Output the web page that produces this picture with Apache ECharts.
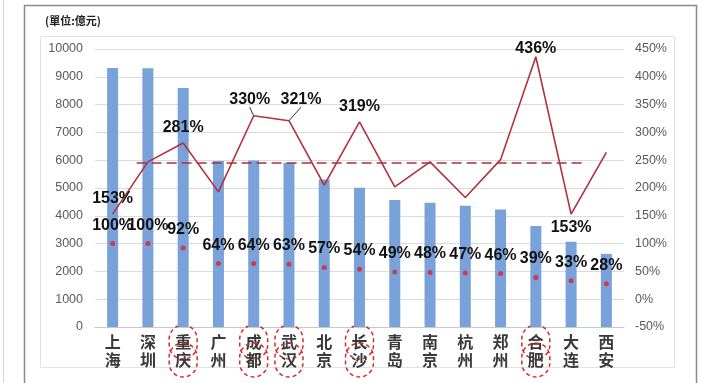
<!DOCTYPE html>
<html>
<head>
<meta charset="utf-8">
<script src="https://cdn.jsdelivr.net/npm/echarts@6/dist/echarts.min.js"></script>
<style>
  html, body { margin: 0; padding: 0; background: #fff; }
  #chart { width: 707px; height: 383px; }
</style>
</head>
<body>
<div id="chart"></div>
<script>
// Cities along the category axis
const cities = ['上海', '深圳', '重庆', '广州', '成都', '武汉', '北京', '长沙', '青岛', '南京', '杭州', '郑州', '合肥', '大连', '西安'];
// Bars: amount in 亿元 (left axis)
const amounts = [9320, 9310, 8600, 5970, 5990, 5910, 5310, 5010, 4570, 4470, 4360, 4230, 3630, 3070, 2630];
// Red line: ratio in % (right axis)
const ratioLine = [153, 247, 281, 193, 330, 321, 205, 319, 202, 247, 183, 251, 436, 153, 264];
// Red dots: ratio in % (right axis)
const ratioDots = [100, 100, 92, 64, 64, 63, 57, 54, 49, 48, 47, 46, 39, 33, 28];
// Dashed reference level (%) and its horizontal extent in category units
const refLevel = 245;
const refSpan = [0.68, 13.32];
// Cities whose axis labels are circled
const circled = ['重庆', '成都', '武汉', '长沙', '合肥'];
// Axis ranges
const leftAxis = { min: 0, max: 10000, step: 1000 };
const rightAxis = { min: -50, max: 450, step: 50 };

const labelFont = 'Liberation Sans, Arial, sans-serif';
const cjkFont = '"Noto Sans CJK SC", sans-serif';

// Which line points carry a value label, and where it sits
const lineLabelPlacement = {
  '上海': { position: 'top', distance: 7 },
  '重庆': { position: 'top', distance: 7 },
  '成都': { position: 'top', distance: 8 },
  '武汉': { position: 'top', distance: 8 },
  '长沙': { position: 'top', distance: 7 },
  '合肥': { position: 'top', distance: 0 },
  '大连': { position: 'bottom', distance: 5 }
};
// Labels pulled aside with a leader line back to their point
const leaderShift = { '成都': [-4, 0], '武汉': [12, -5] };

const valueLabelStyle = {
  color: '#111',
  opacity: 1,
  fontFamily: labelFont,
  fontWeight: 'bold',
  fontSize: 16,
  textBorderWidth: 0
};

const lineData = ratioLine.map((v, i) => {
  const name = cities[i];
  const place = lineLabelPlacement[name];
  if (!place) return v;
  const item = {
    value: v,
    label: Object.assign({ show: true }, valueLabelStyle, place, { formatter: v + '%' })
  };
  if (leaderShift[name]) {
    item.labelLine = { show: true, lineStyle: { color: '#333', width: 1 } };
  }
  return item;
});

const chart = echarts.init(document.getElementById('chart'), null, { renderer: 'canvas' });

chart.setOption({
  animation: false,
  backgroundColor: '#ffffff',
  graphic: [
    { type: 'line', shape: { x1: 3.5, y1: 0, x2: 3.5, y2: 383 }, style: { stroke: '#d4d4d4', lineWidth: 1 }, silent: true },
    { type: 'rect', shape: { x: 24.5, y: 5.5, width: 672, height: 400 }, style: { fill: 'none', stroke: '#8a8a8a', lineWidth: 1.5 }, silent: true },
    { type: 'rect', shape: { x: 40.5, y: 36.5, width: 634, height: 331 }, style: { fill: 'none', stroke: '#e2e2e2', lineWidth: 1 }, silent: true },
    {
      type: 'text', left: 45, top: 15,
      style: { text: '(單位:億元)', fill: '#222', font: 'bold 11px "Noto Sans CJK TC", sans-serif' },
      silent: true
    }
  ],
  grid: { left: 95, right: 83, top: 49, bottom: 56 },
  xAxis: [
    {
      type: 'category',
      data: cities,
      axisLine: { lineStyle: { color: '#c8c8c8' } },
      axisTick: { show: false },
      axisLabel: {
        interval: 0,
        margin: 6,
        formatter: name => {
          const txt = name.split('').join('\n');
          return circled.includes(name) ? '{c|' + txt + '}' : '{n|' + txt + '}';
        },
        rich: {
          n: {
            fontFamily: cjkFont, fontWeight: 'bold', fontSize: 16, lineHeight: 18,
            color: '#3a3a3a', padding: [9, 6, 9, 6], align: 'center'
          },
          c: {
            fontFamily: cjkFont, fontWeight: 'bold', fontSize: 16, lineHeight: 18,
            color: '#3a3a3a', padding: [9, 6, 9, 6], align: 'center',
            borderColor: '#d42a2a', borderWidth: 1.5, borderType: [4, 3],
            borderRadius: 14
          }
        }
      }
    },
    { type: 'value', min: -0.5, max: 14.5, show: false }
  ],
  yAxis: [
    {
      type: 'value',
      min: leftAxis.min, max: leftAxis.max, interval: leftAxis.step,
      axisLine: { show: false },
      axisTick: { show: false },
      splitLine: { lineStyle: { color: '#dcdcdc', width: 1 } },
      axisLabel: { color: '#5a5a5a', fontFamily: labelFont, fontSize: 12.5, margin: 12, formatter: v => String(v) }
    },
    {
      type: 'value',
      min: rightAxis.min, max: rightAxis.max, interval: rightAxis.step,
      axisLine: { show: false },
      axisTick: { show: false },
      splitLine: { show: false },
      axisLabel: { color: '#5a5a5a', fontFamily: labelFont, fontSize: 12.5, margin: 11, formatter: '{value}%' }
    }
  ],
  series: [
    {
      name: 'amount',
      type: 'bar',
      data: amounts,
      barWidth: 11,
      itemStyle: { color: '#78a2d9' },
      z: 1
    },
    {
      name: 'reference',
      type: 'line',
      xAxisIndex: 1,
      yAxisIndex: 1,
      data: refSpan.map(x => [x, refLevel]),
      symbol: 'none',
      lineStyle: { color: '#a8303c', width: 1.6, type: [10, 5] },
      z: 2
    },
    {
      name: 'ratioLine',
      type: 'line',
      yAxisIndex: 1,
      data: lineData,
      symbol: 'circle',
      symbolSize: 1,
      showSymbol: true,
      itemStyle: { color: 'rgba(0,0,0,0)' },
      lineStyle: { color: '#b3303e', width: 1.6 },
      labelLayout: p => {
        const shift = leaderShift[cities[p.dataIndex]];
        return shift ? { dx: shift[0], dy: shift[1] } : {};
      },
      z: 3
    },
    {
      name: 'ratioDots',
      type: 'scatter',
      yAxisIndex: 1,
      data: ratioDots,
      symbol: 'circle',
      symbolSize: 5,
      itemStyle: { color: '#e0202a' },
      label: Object.assign({ show: true, position: 'top', distance: 8, formatter: p => p.value + '%' }, valueLabelStyle),
      emphasis: { disabled: true },
      z: 4
    }
  ]
});
</script>
</body>
</html>
